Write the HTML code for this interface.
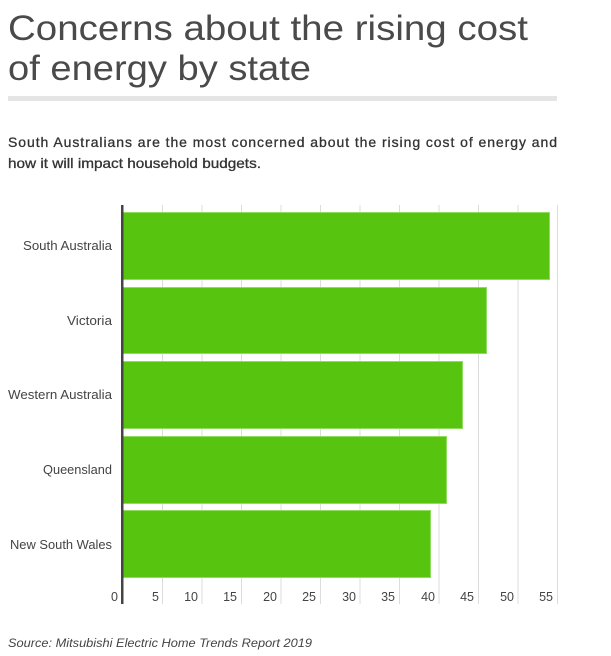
<!DOCTYPE html>
<html><head><meta charset="utf-8"><style>
html,body{margin:0;padding:0;background:#fff;}
svg{display:block;font-family:"Liberation Sans",sans-serif;}
</style></head><body>
<svg width="611" height="656" viewBox="0 0 611 656" xmlns="http://www.w3.org/2000/svg">
<text x="8" y="40" font-size="35" fill="#4a4a4a" textLength="520" lengthAdjust="spacingAndGlyphs">Concerns about the rising cost</text>
<text x="8" y="80" font-size="35" fill="#4a4a4a" textLength="303" lengthAdjust="spacingAndGlyphs">of energy by state</text>
<rect x="8" y="96" width="549" height="5" fill="#e5e5e5"/>
<text x="8" y="147" font-size="14" fill="#333" stroke="#333" stroke-width="0.3" textLength="549" lengthAdjust="spacing">South Australians are the most concerned about the rising cost of energy and</text>
<text x="8" y="168" font-size="14" fill="#333" stroke="#333" stroke-width="0.3" textLength="253" lengthAdjust="spacingAndGlyphs">how it will impact household budgets.</text>
<g stroke="#dcdcdc" stroke-width="1">
<line x1="162.5" y1="205" x2="162.5" y2="604"/><line x1="202" y1="205" x2="202" y2="604"/>
<line x1="241.5" y1="205" x2="241.5" y2="604"/><line x1="281" y1="205" x2="281" y2="604"/>
<line x1="320.5" y1="205" x2="320.5" y2="604"/><line x1="360" y1="205" x2="360" y2="604"/>
<line x1="399.5" y1="205" x2="399.5" y2="604"/><line x1="439" y1="205" x2="439" y2="604"/>
<line x1="478.5" y1="205" x2="478.5" y2="604"/><line x1="518" y1="205" x2="518" y2="604"/>
<line x1="557.5" y1="205" x2="557.5" y2="604"/>
</g>
<g fill="#57c40f" stroke="#8fdc5e" stroke-width="1">
<rect x="122.5" y="212.5" width="427" height="67"/>
<rect x="122.5" y="287.5" width="364" height="66"/>
<rect x="122.5" y="361.5" width="340" height="67"/>
<rect x="122.5" y="436.5" width="324" height="67"/>
<rect x="122.5" y="510.5" width="308" height="67"/>
</g>
<rect x="121" y="205" width="2.5" height="399" fill="#444"/>
<g font-size="12.5" fill="#444" text-anchor="end">
<text x="112" y="250" textLength="89" lengthAdjust="spacingAndGlyphs">South Australia</text>
<text x="112" y="325" textLength="45" lengthAdjust="spacingAndGlyphs">Victoria</text>
<text x="112" y="399" textLength="104" lengthAdjust="spacingAndGlyphs">Western Australia</text>
<text x="112" y="474" textLength="69" lengthAdjust="spacingAndGlyphs">Queensland</text>
<text x="112" y="549" textLength="102" lengthAdjust="spacingAndGlyphs">New South Wales</text>
</g>
<g font-size="12.5" fill="#444" text-anchor="end">
<text x="118" y="601">0</text><text x="159" y="601">5</text><text x="198" y="601">10</text>
<text x="237" y="601">15</text><text x="277" y="601">20</text><text x="316" y="601">25</text>
<text x="356" y="601">30</text><text x="395" y="601">35</text><text x="435" y="601">40</text>
<text x="474" y="601">45</text><text x="514" y="601">50</text><text x="553" y="601">55</text>
</g>
<text x="8" y="647" font-size="12" font-style="italic" fill="#444" textLength="304" lengthAdjust="spacingAndGlyphs">Source: Mitsubishi Electric Home Trends Report 2019</text>
</svg>
</body></html>
